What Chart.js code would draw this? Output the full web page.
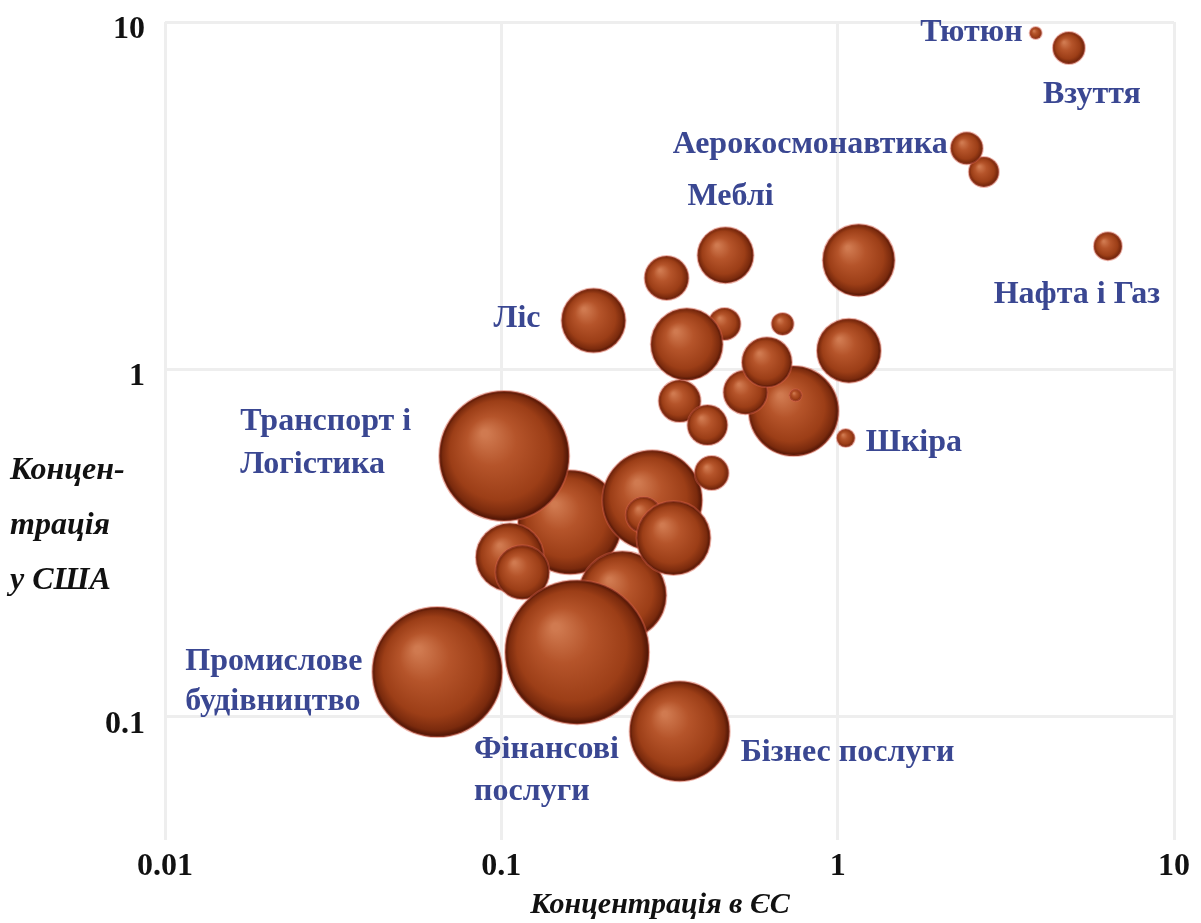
<!DOCTYPE html>
<html>
<head>
<meta charset="utf-8">
<script src="https://cdn.jsdelivr.net/npm/chart.js@4.4.1/dist/chart.umd.min.js"></script>
<style>
  html, body { margin: 0; padding: 0; background: #fff; }
  #wrap { width: 1201px; height: 923px; position: relative; }
</style>
</head>
<body>
<div id="wrap"><canvas id="chart"></canvas></div>
<script>
// concentration in the EU (x), in the USA (y), bubble radius in px, back to front
const euConc = [0.160, 0.229, 0.281, 0.265, 0.325, 0.102, 0.106, 0.1155, 0.168, 0.0645, 0.339,
                0.422, 0.339, 0.410, 0.740, 0.532, 0.616, 0.750, 0.461, 0.356, 0.686, 1.08,
                1.057, 0.188, 0.310, 0.464, 1.155, 6.36, 2.72, 2.42, 4.87, 3.88];
const usConc = [0.362, 0.223, 0.419, 0.380, 0.326, 0.562, 0.287, 0.260, 0.153, 0.134, 0.0905,
                0.502, 0.809, 0.690, 0.757, 0.858, 1.047, 0.841, 1.35, 1.18, 1.35, 1.13,
                0.633, 1.38, 1.83, 2.13, 2.06, 2.26, 3.70, 4.33, 8.42, 9.30];
const bubbleSize = [52, 44, 50, 18, 37, 65, 34, 27, 72, 65, 50,
                    17, 21, 20, 45, 22, 25, 6, 16, 36, 11, 32,
                    9, 32, 22, 28, 36, 14, 15, 16, 16, 6];

const xTicks = [0.01, 0.1, 1, 10];
const yTicks = [0.1, 1, 10];

// sector names and the bubble each one belongs to
const sectorNames = ['Тютюн', 'Взуття', 'Аерокосмонавтика', 'Меблі', 'Нафта і Газ', 'Ліс',
                     'Транспорт і\nЛогістика', 'Шкіра', 'Промислове\nбудівництво',
                     'Фінансові\nпослуги', 'Бізнес послуги'];
const sectorBubble = [31, 30, 29, 25, 27, 23, 5, 22, 9, 8, 10];

// label placement relative to its bubble (px)
const labelPos = [
  { dx: -13, dy: 0, align: 'right' },
  { dx: 23, dy: 47, align: 'center' },
  { dx: -19, dy: -3, align: 'right' },
  { dx: 5, dy: -58, align: 'center' },
  { dx: -31, dy: 49, align: 'center' },
  { dx: -53, dy: -2, align: 'right' },
  { dx: -264, dy: -34, align: 'left', lh: 43 },
  { dx: 20, dy: 5, align: 'left' },
  { dx: -252, dy: -10, align: 'left', lh: 40 },
  { dx: -103, dy: 98, align: 'left', lh: 42 },
  { dx: 61, dy: 21, align: 'left' }
];

const SERIF = '"Liberation Serif", "DejaVu Serif", serif';
const LABEL_COLOR = '#3a4792';
const FLAT = '#a4431c';

function sphere(c) {
  const raw = c.raw;
  if (!raw || !c.chart.chartArea) return FLAT;
  const chart = c.chart;
  const px = chart.scales.x.getPixelForValue(raw.x);
  const py = chart.scales.y.getPixelForValue(raw.y);
  const r = raw.r;
  if (!isFinite(px) || !isFinite(py)) return FLAT;
  const g = chart.ctx.createRadialGradient(px - r * 0.3, py - r * 0.35, r * 0.05, px, py, r);
  g.addColorStop(0, '#d07a50');
  g.addColorStop(0.35, '#b5542a');
  g.addColorStop(0.75, '#9c3e17');
  g.addColorStop(0.92, '#7a2a0d');
  g.addColorStop(1, '#4a1204');
  return g;
}

const textPlugin = {
  id: 'texts',
  afterDatasetsDraw(chart) {
    const { ctx, scales } = chart;
    ctx.save();
    ctx.fillStyle = LABEL_COLOR;
    ctx.font = 'bold 32px ' + SERIF;
    ctx.textBaseline = 'middle';
    sectorNames.forEach((name, i) => {
      const k = sectorBubble[i];
      const p = labelPos[i];
      const x = scales.x.getPixelForValue(euConc[k]) + p.dx;
      const y = scales.y.getPixelForValue(usConc[k]) + p.dy;
      ctx.textAlign = p.align;
      name.split('\n').forEach((line, j) => ctx.fillText(line, x, y + j * (p.lh || 0)));
    });
    ctx.restore();
  },
  afterDraw(chart) {
    const { ctx } = chart;
    ctx.save();
    ctx.fillStyle = '#111';
    ctx.textBaseline = 'middle';
    ctx.font = 'italic bold 32px ' + SERIF;
    ctx.textAlign = 'left';
    ['Концен-', 'трація', 'у США'].forEach((t, j) => ctx.fillText(t, 10, 471 + j * 55));
    ctx.font = 'italic bold 30px ' + SERIF;
    ctx.textAlign = 'center';
    ctx.fillText('Концентрація в ЄС', 660, 905);
    ctx.restore();
  }
};

const chart = new Chart(document.getElementById('chart'), {
  type: 'bubble',
  data: {
    datasets: [{
      data: euConc.map((x, i) => ({ x, y: usConc[i], r: bubbleSize[i] })),
      backgroundColor: sphere,
      borderColor: 'rgba(214, 96, 74, 0.45)',
      borderWidth: 2
    }]
  },
  options: {
    responsive: true,
    maintainAspectRatio: false,
    animation: false,
    events: [],
    layout: { autoPadding: false, padding: { top: 22, right: 27, left: 0, bottom: 0 } },
    plugins: { legend: { display: false }, tooltip: { enabled: false } },
    scales: {
      x: {
        type: 'logarithmic',
        min: 0.01, max: 10,
        afterBuildTicks: s => { s.ticks = xTicks.map(v => ({ value: v })); },
        afterFit: s => { s.height = 83; },
        border: { display: false },
        grid: { color: '#eeeeee', lineWidth: 3, drawTicks: false },
        ticks: {
          autoSkip: false, maxRotation: 0, padding: 8,
          color: '#111', font: { family: SERIF, size: 32, weight: 'bold' },
          callback: v => String(v)
        }
      },
      y: {
        type: 'logarithmic',
        min: 0.044, max: 10,
        afterBuildTicks: s => { s.ticks = yTicks.map(v => ({ value: v })); },
        afterFit: s => { s.width = 165; s.paddingTop = 0; s.paddingBottom = 0; },
        border: { display: false },
        grid: { color: '#eeeeee', lineWidth: 3, drawTicks: false },
        ticks: {
          autoSkip: false, padding: 20, labelOffset: 8,
          color: '#111', font: { family: SERIF, size: 32, weight: 'bold' },
          callback: v => String(v)
        }
      }
    }
  },
  plugins: [textPlugin]
});
chart.update('none');
</script>
</body>
</html>
